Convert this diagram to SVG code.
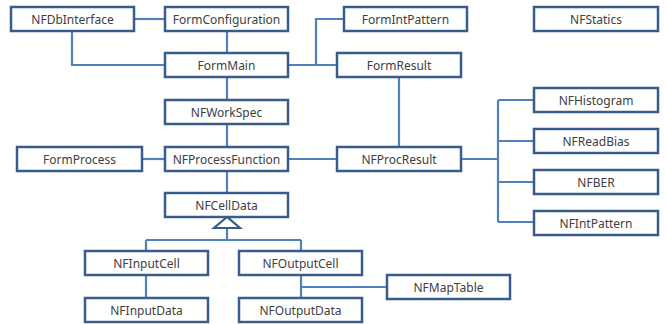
<svg xmlns="http://www.w3.org/2000/svg" width="667" height="324" viewBox="0 0 667 324">
<style>
.n rect{fill:#fff;stroke:#385D8A;stroke-width:2.5}
.n text{font-family:"Noto Sans","Open Sans",sans-serif;font-size:12px;fill:#404040;text-anchor:middle;dominant-baseline:central}
.c path{fill:none;stroke:#4F81BD;stroke-width:2.2}
.c polygon{fill:#fff;stroke:#385D8A;stroke-width:2.2}
</style>
<rect width="667" height="324" fill="#fff"/>
<g class="c" id="connectors">
<path d="M134 19H165"/>
<path d="M72 31V65H165"/>
<path d="M227 31V53"/>
<path d="M227 77V100"/>
<path d="M288 65H337"/>
<path d="M316 65V19H344"/>
<path d="M227 124V147"/>
<path d="M142 159H165"/>
<path d="M288 159H337"/>
<path d="M399 77V147"/>
<path d="M461 159H498"/>
<path d="M498 100V222"/>
<path d="M498 100H534M498 141H534M498 182H534M498 222H534"/>
<path d="M227 171V193"/>
<path d="M227 228V240M146 240H301M146 240V251M301 240V251"/>
<path d="M146 275V298"/>
<path d="M301 275V298"/>
<path d="M301 287H387"/>
<polygon points="227,217 214,228 240,228"/>
</g>
<g class="n" id="NFDbInterface"><rect x="11" y="7" width="123" height="24"/><text x="72.5" y="19">NFDbInterface</text></g>
<g class="n" id="FormConfiguration"><rect x="165" y="7" width="123" height="24"/><text x="226.5" y="19">FormConfiguration</text></g>
<g class="n" id="FormIntPattern"><rect x="344" y="7" width="123" height="24"/><text x="405.5" y="19">FormIntPattern</text></g>
<g class="n" id="NFStatics"><rect x="534" y="7" width="124" height="24"/><text x="596" y="19">NFStatics</text></g>
<g class="n" id="FormMain"><rect x="165" y="53" width="123" height="24"/><text x="226.5" y="65">FormMain</text></g>
<g class="n" id="FormResult"><rect x="337" y="53" width="124" height="24"/><text x="399" y="65">FormResult</text></g>
<g class="n" id="NFWorkSpec"><rect x="165" y="100" width="123" height="24"/><text x="226.5" y="112">NFWorkSpec</text></g>
<g class="n" id="NFHistogram"><rect x="534" y="88" width="124" height="24"/><text x="596" y="100">NFHistogram</text></g>
<g class="n" id="NFReadBias"><rect x="534" y="129" width="124" height="24"/><text x="596" y="141">NFReadBias</text></g>
<g class="n" id="FormProcess"><rect x="17" y="147" width="125" height="24"/><text x="79.5" y="159">FormProcess</text></g>
<g class="n" id="NFProcessFunction"><rect x="165" y="147" width="123" height="24"/><text x="226.5" y="159">NFProcessFunction</text></g>
<g class="n" id="NFProcResult"><rect x="337" y="147" width="124" height="24"/><text x="399" y="159">NFProcResult</text></g>
<g class="n" id="NFBER"><rect x="534" y="170" width="124" height="24"/><text x="596" y="182">NFBER</text></g>
<g class="n" id="NFCellData"><rect x="165" y="193" width="123" height="24"/><text x="226.5" y="205">NFCellData</text></g>
<g class="n" id="NFIntPattern"><rect x="534" y="211" width="124" height="24"/><text x="596" y="223">NFIntPattern</text></g>
<g class="n" id="NFInputCell"><rect x="85" y="251" width="123" height="24"/><text x="146.5" y="263">NFInputCell</text></g>
<g class="n" id="NFOutputCell"><rect x="239" y="251" width="123" height="24"/><text x="300.5" y="263">NFOutputCell</text></g>
<g class="n" id="NFMapTable"><rect x="387" y="275" width="123" height="24"/><text x="448.5" y="287">NFMapTable</text></g>
<g class="n" id="NFInputData"><rect x="85" y="298" width="123" height="24"/><text x="146.5" y="310">NFInputData</text></g>
<g class="n" id="NFOutputData"><rect x="239" y="298" width="123" height="24"/><text x="300.5" y="310">NFOutputData</text></g>
</svg>
